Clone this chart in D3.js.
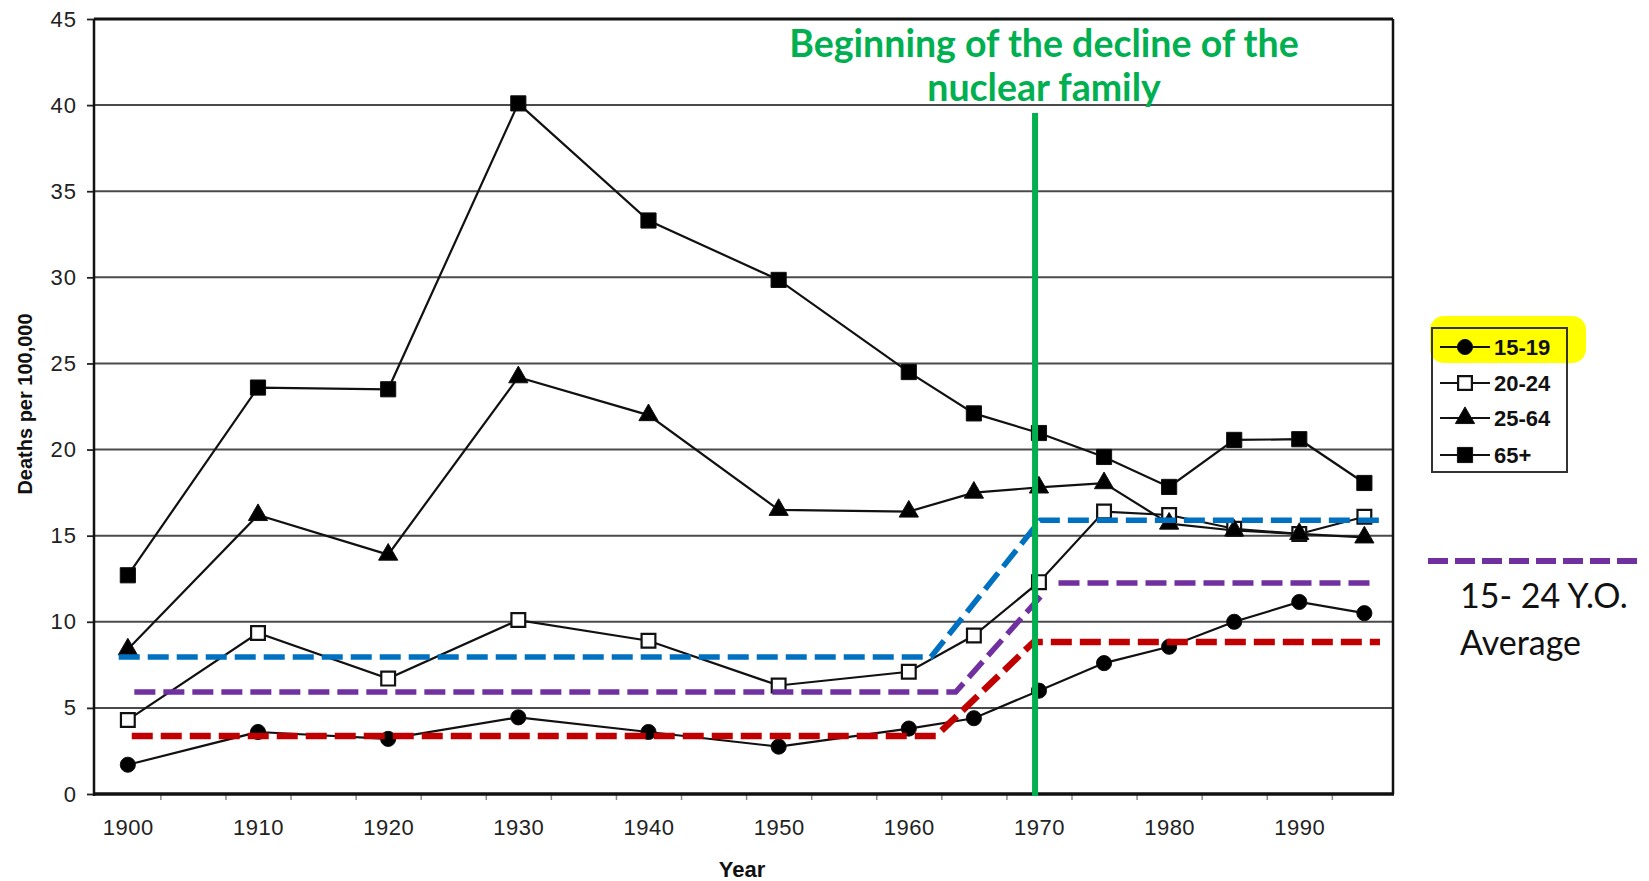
<!DOCTYPE html>
<html>
<head>
<meta charset="utf-8">
<script src="https://cdnjs.cloudflare.com/ajax/libs/d3/7.8.5/d3.min.js"></script>
<style>
  body { margin: 0; background: #fff; }
  svg { display: block; }
</style>
</head>
<body>
<div id="canvas"></div>
<script>
/* global d3 */
// series data, deaths per 100,000
const years = [1900, 1910, 1920, 1930, 1940, 1950, 1960, 1965, 1970, 1975, 1980, 1985, 1990, 1995];
const ages15to19 = [1.7, 3.6, 3.2, 4.45, 3.6, 2.75, 3.8, 4.4, 6.0, 7.6, 8.55, 10.0, 11.15, 10.5];
const ages20to24 = [4.3, 9.35, 6.7, 10.1, 8.9, 6.3, 7.1, 9.2, 12.3, 16.4, 16.2, 15.4, 15.1, 16.1];
const ages25to64 = [8.4, 16.2, 13.9, 24.2, 22.0, 16.5, 16.4, 17.5, 17.8, 18.05, 15.7, 15.3, 15.1, 14.9];
const ages65plus = [12.7, 23.6, 23.5, 40.1, 33.3, 29.85, 24.5, 22.1, 20.96, 19.57, 17.83, 20.56, 20.6, 18.06];

const seriesNames = ['15-19', '20-24', '25-64', '65+'];

// hand drawn average lines
const avg20to24Years = [1899.3, 1961.7, 1970.1, 1996.4];
const avg20to24Values = [7.95, 7.95, 15.9, 15.9];
const avg15to24Years = [1900.5, 1963.6, 1970.4];
const avg15to24Values = [5.92, 5.92, 11.7];
const avg15to24LateYears = [1971.5, 1996.0];
const avg15to24LateValues = [12.25, 12.25];
const avg15to19Years = [1900.3, 1962.1, 1969.6, 1996.2];
const avg15to19Values = [3.37, 3.37, 8.83, 8.83];

const declineYear = 1969.7;

const yTicks = [0, 5, 10, 15, 20, 25, 30, 35, 40, 45];
const xTicks = [1900, 1910, 1920, 1930, 1940, 1950, 1960, 1970, 1980, 1990];
const xMinorTicks = d3.range(1902.5, 1996, 5);

const width = 1649;
const height = 881;
const plotLeft = 94, plotRight = 1393, plotTop = 19, plotBottom = 794;

const xScale = d3.scaleLinear().domain([1897.4, 1997.2]).range([plotLeft, plotRight]);
const yScale = d3.scaleLinear().domain([0, 45]).range([plotBottom, plotTop]);

const svg = d3.select('#canvas')
  .append('svg')
  .attr('width', width)
  .attr('height', height)
  .style('font-family', '"Liberation Sans", Arial, sans-serif');

// gridlines
svg.append('g')
  .selectAll('line')
  .data(yTicks.filter(d => d > 0 && d < 45))
  .enter()
  .append('line')
  .attr('x1', plotLeft)
  .attr('x2', plotRight)
  .attr('y1', d => yScale(d))
  .attr('y2', d => yScale(d))
  .attr('stroke', '#4a4a4a')
  .attr('stroke-width', 2);

// y axis
const yAxis = svg.append('g')
  .attr('transform', 'translate(' + plotLeft + ',0)')
  .call(d3.axisLeft(yScale).tickValues(yTicks).tickSize(7).tickPadding(10));
yAxis.select('.domain').remove();
yAxis.selectAll('line').attr('stroke', '#222').attr('stroke-width', 1.8);
yAxis.selectAll('text')
  .attr('font-size', 22)
  .attr('fill', '#222')
  .style('letter-spacing', '1px');

// x axis labels
const xAxis = svg.append('g')
  .attr('transform', 'translate(0,' + plotBottom + ')')
  .call(d3.axisBottom(xScale).tickValues(xTicks).tickSize(0).tickPadding(25).tickFormat(d3.format('d')));
xAxis.select('.domain').remove();
xAxis.selectAll('text')
  .attr('font-size', 22)
  .attr('fill', '#222')
  .style('letter-spacing', '0.5px');

// small ticks under x axis
const xMinor = svg.append('g')
  .attr('transform', 'translate(0,' + plotBottom + ')')
  .call(d3.axisBottom(xScale).tickValues(xMinorTicks).tickSize(6).tickFormat(''));
xMinor.select('.domain').remove();
xMinor.selectAll('line').attr('stroke', '#888').attr('stroke-width', 1.5);

// frame
svg.append('line').attr('x1', plotLeft).attr('x2', plotRight).attr('y1', plotTop).attr('y2', plotTop)
  .attr('stroke', '#111').attr('stroke-width', 3);
svg.append('line').attr('x1', plotRight).attr('x2', plotRight).attr('y1', plotTop).attr('y2', plotBottom)
  .attr('stroke', '#111').attr('stroke-width', 2.5);
svg.append('line').attr('x1', plotLeft).attr('x2', plotLeft).attr('y1', plotTop).attr('y2', plotBottom + 2)
  .attr('stroke', '#111').attr('stroke-width', 2.5);
svg.append('line').attr('x1', plotLeft).attr('x2', plotRight + 1).attr('y1', plotBottom).attr('y2', plotBottom)
  .attr('stroke', '#111').attr('stroke-width', 3.5);

// axis titles
svg.append('text')
  .attr('transform', 'translate(25,404) rotate(-90)')
  .attr('text-anchor', 'middle')
  .attr('dominant-baseline', 'central')
  .attr('font-size', 20)
  .attr('font-weight', 'bold')
  .attr('fill', '#111')
  .text('Deaths per 100,000');

svg.append('text')
  .attr('x', 742)
  .attr('y', 877)
  .attr('text-anchor', 'middle')
  .attr('font-size', 22)
  .attr('font-weight', 'bold')
  .attr('fill', '#111')
  .text('Year');

// markers
const circle = d3.symbol().type(d3.symbolCircle).size(180);
const square = d3.symbol().type(d3.symbolSquare).size(230);
const openSquare = d3.symbol().type(d3.symbolSquare).size(190);
const triangle = d3.symbol().type(d3.symbolTriangle).size(160);

const series = [
  { name: seriesNames[0], values: ages15to19, shape: circle, fill: '#000' },
  { name: seriesNames[1], values: ages20to24, shape: openSquare, fill: '#fff' },
  { name: seriesNames[2], values: ages25to64, shape: triangle, fill: '#000' },
  { name: seriesNames[3], values: ages65plus, shape: square, fill: '#000' }
];

const line = d3.line()
  .x(d => xScale(d[0]))
  .y(d => yScale(d[1]));

series.forEach(function (s) {
  const points = years.map((yr, i) => [yr, s.values[i]]);
  svg.append('path')
    .datum(points)
    .attr('d', line)
    .attr('fill', 'none')
    .attr('stroke', '#111')
    .attr('stroke-width', 2.2);
});

series.forEach(function (s) {
  const points = years.map((yr, i) => [yr, s.values[i]]);
  svg.append('g')
    .selectAll('path')
    .data(points)
    .enter()
    .append('path')
    .attr('transform', d => 'translate(' + xScale(d[0]) + ',' + yScale(d[1]) + ')')
    .attr('d', s.shape)
    .attr('fill', s.fill)
    .attr('stroke', '#111')
    .attr('stroke-width', s.fill === '#fff' ? 2.2 : 1);
});

// average dashed lines
function dashed(xs, vs, color, w) {
  svg.append('path')
    .datum(xs.map((yr, i) => [yr, vs[i]]))
    .attr('d', line)
    .attr('fill', 'none')
    .attr('stroke', color)
    .attr('stroke-width', w)
    .attr('stroke-dasharray', '21 8');
}
dashed(avg20to24Years, avg20to24Values, '#0070c0', 5.5);
dashed(avg15to24Years, avg15to24Values, '#7030a0', 5.5);
dashed(avg15to24LateYears, avg15to24LateValues, '#7030a0', 5.5);
dashed(avg15to19Years, avg15to19Values, '#c00000', 6.5);

// decline marker
svg.append('line')
  .attr('x1', xScale(declineYear))
  .attr('x2', xScale(declineYear))
  .attr('y1', 113)
  .attr('y2', plotBottom + 2)
  .attr('stroke', '#00b050')
  .attr('stroke-width', 6);

const note = svg.append('text')
  .attr('text-anchor', 'middle')
  .attr('font-family', 'Lato, sans-serif')
  .attr('font-weight', 'bold')
  .attr('font-size', 37.5)
  .attr('fill', '#00b050');
note.append('tspan').attr('x', 1044).attr('y', 57).text('Beginning of the decline of the');
note.append('tspan').attr('x', 1044).attr('y', 101).text('nuclear family');

// legend
svg.append('rect')
  .attr('x', 1430)
  .attr('y', 316)
  .attr('width', 156)
  .attr('height', 47)
  .attr('rx', 14)
  .attr('fill', '#ffff00');

svg.append('rect')
  .attr('x', 1432)
  .attr('y', 328)
  .attr('width', 135)
  .attr('height', 144)
  .attr('fill', 'none')
  .attr('stroke', '#333')
  .attr('stroke-width', 2);

const legendY = [347, 383, 418, 455];
series.forEach(function (s, i) {
  const g = svg.append('g').attr('transform', 'translate(0,' + legendY[i] + ')');
  g.append('line')
    .attr('x1', 1440)
    .attr('x2', 1490)
    .attr('stroke', '#111')
    .attr('stroke-width', 2.2);
  g.append('path')
    .attr('transform', 'translate(1465,0)')
    .attr('d', s.shape)
    .attr('fill', s.fill)
    .attr('stroke', '#111')
    .attr('stroke-width', s.fill === '#fff' ? 2.2 : 1);
  g.append('text')
    .attr('x', 1494)
    .attr('dominant-baseline', 'central')
    .attr('font-size', 22)
    .attr('font-weight', 'bold')
    .attr('fill', '#111')
    .text(s.name);
});

svg.append('line')
  .attr('x1', 1428)
  .attr('x2', 1638)
  .attr('y1', 561)
  .attr('y2', 561)
  .attr('stroke', '#7030a0')
  .attr('stroke-width', 6)
  .attr('stroke-dasharray', '20 7');

const avgLabel = svg.append('text')
  .attr('font-family', 'Lato, sans-serif')
  .attr('font-size', 34)
  .attr('fill', '#111');
avgLabel.append('tspan').attr('x', 1460).attr('y', 608).text('15- 24 Y.O.');
avgLabel.append('tspan').attr('x', 1460).attr('y', 655).text('Average');
</script>
</body>
</html>
